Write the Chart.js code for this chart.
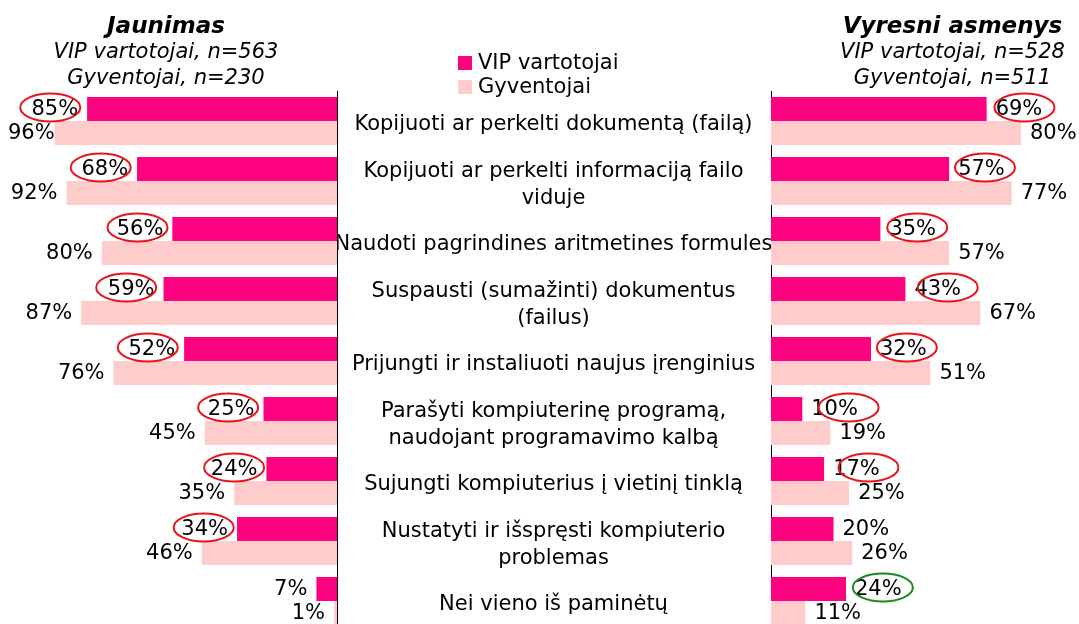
<!DOCTYPE html>
<html>
<head>
<meta charset="utf-8">
<script src="https://cdn.jsdelivr.net/npm/chart.js@4.4.1/dist/chart.umd.min.js"></script>
<style>
html,body{margin:0;padding:0;background:#fff;overflow:hidden;width:1079px;height:624px;}
#wrap{position:relative;width:1079px;height:624px;overflow:hidden;font-family:"DejaVu Sans",Verdana,sans-serif;color:#000;}
canvas{position:absolute;top:0;}
.t{position:absolute;text-align:center;white-space:nowrap;line-height:26px;}
.h{font-style:italic;font-weight:bold;font-size:23px;}
.s{font-style:italic;font-size:21px;}
.lg{position:absolute;white-space:nowrap;font-size:21px;line-height:26px;}
.sq{position:absolute;width:14px;height:14px;}
</style>
</head>
<body>
<div id="wrap">
  <canvas id="cl" width="340" height="640" style="left:0;width:340px;height:640px;"></canvas>
  <canvas id="cr" width="741" height="640" style="left:338px;width:741px;height:640px;"></canvas>

  <div class="t h" style="left:0;width:332px;top:12px;">Jaunimas</div>
  <div class="t s" style="left:0;width:332px;top:38px;">VIP vartotojai, n=563</div>
  <div class="t s" style="left:0;width:332px;top:64px;">Gyventojai, n=230</div>

  <div class="t h" style="left:826px;width:253px;top:12px;">Vyresni asmenys</div>
  <div class="t s" style="left:826px;width:253px;top:38px;">VIP vartotojai, n=528</div>
  <div class="t s" style="left:826px;width:253px;top:64px;">Gyventojai, n=511</div>

  <div class="sq" id="sq0" style="left:458px;top:56px;"></div>
  <div class="lg" id="lg0" style="left:478px;top:49px;"></div>
  <div class="sq" id="sq1" style="left:458px;top:80px;"></div>
  <div class="lg" id="lg1" style="left:478px;top:73px;"></div>
</div>
<script>
// ---- data ----
const categories = [
  'Kopijuoti ar perkelti dokumentą (failą)',
  ['Kopijuoti ar perkelti informaciją failo', 'viduje'],
  'Naudoti pagrindines aritmetines formules',
  ['Suspausti (sumažinti) dokumentus', '(failus)'],
  'Prijungti ir instaliuoti naujus įrenginius',
  ['Parašyti kompiuterinę programą,', 'naudojant programavimo kalbą'],
  'Sujungti kompiuterius į vietinį tinklą',
  ['Nustatyti ir išspręsti kompiuterio', 'problemas'],
  'Nei vieno iš paminėtų'
];
const seriesNames = ['VIP vartotojai', 'Gyventojai'];
const youthVIP = [85, 68, 56, 59, 52, 25, 24, 34, 7];
const youthPop = [96, 92, 80, 87, 76, 45, 35, 46, 1];
const olderVIP = [69, 57, 35, 43, 32, 10, 17, 20, 24];
const olderPop = [80, 77, 57, 67, 51, 19, 25, 26, 11];
// highlighted (circled) VIP values
const youthMarks = ['red', 'red', 'red', 'red', 'red', 'red', 'red', 'red', null];
const olderMarks = ['red', 'red', 'red', 'red', 'red', 'red', 'red', null, 'green'];

// ---- styles ----
const COL_VIP = '#ff0080';
const COL_POP = '#ffcccc';
const FONT = '"DejaVu Sans", Verdana, sans-serif';
const youthShift = [-4.5, -4, -2.5, -5, -4, -3, 0, -1, 0];
const olderShift = [5.5, 3.5, 4.5, 10, 3.5, 14, 12, 0, 4.5];

document.getElementById('sq0').style.background = COL_VIP;
document.getElementById('sq1').style.background = COL_POP;
document.getElementById('lg0').textContent = seriesNames[0];
document.getElementById('lg1').textContent = seriesNames[1];

const valueLabels = {
  id: 'valueLabels',
  afterDatasetsDraw(chart, args, opts) {
    const ctx = chart.ctx;
    ctx.save();
    ctx.font = '21px ' + FONT;
    ctx.fillStyle = '#000';
    ctx.textBaseline = 'middle';
    ctx.textAlign = 'left';
    chart.data.datasets.forEach((ds, di) => {
      const meta = chart.getDatasetMeta(di);
      meta.data.forEach((bar, i) => {
        const txt = ds.data[i] + '%';
        const w = ctx.measureText(txt).width;
        let x;
        if (opts.side === 'left') {
          x = bar.x - 9 - w;
          if (x < 8) x = 8;
        } else {
          x = bar.x + 9;
        }
        ctx.fillText(txt, x, bar.y + 1);
        if (di === 0 && opts.marks[i]) {
          const cx = x + w / 2 + opts.shifts[i];
          ctx.beginPath();
          ctx.ellipse(cx, bar.y - 1.5, 30, 14, 0, 0, Math.PI * 2);
          ctx.strokeStyle = opts.marks[i] === 'green' ? '#1c8a1c' : '#e8141c';
          ctx.lineWidth = 2;
          ctx.stroke();
        }
      });
    });
    ctx.restore();
  }
};

function datasets(vip, pop) {
  return [
    { label: seriesNames[0], data: vip, backgroundColor: COL_VIP, borderWidth: 0,
      categoryPercentage: 0.8, barPercentage: 1.0 },
    { label: seriesNames[1], data: pop, backgroundColor: COL_POP, borderWidth: 0,
      categoryPercentage: 0.8, barPercentage: 1.0 }
  ];
}

// left chart (Jaunimas) – reversed axis
new Chart(document.getElementById('cl'), {
  type: 'bar',
  data: { labels: categories, datasets: datasets(youthVIP, youthPop) },
  options: {
    indexAxis: 'y', responsive: false, animation: false, devicePixelRatio: 1,
    layout: { padding: { left: 43, right: 3, top: 91, bottom: 9 } },
    scales: {
      x: { min: 0, max: 100, reverse: true, display: false },
      y: { position: 'right', grid: { display: false },
           border: { display: true, color: '#000', width: 1 },
           ticks: { display: false },
           afterFit(s) { s.width = 0; } }
    },
    plugins: { legend: { display: false }, tooltip: { enabled: false },
               valueLabels: { side: 'left', marks: youthMarks, shifts: youthShift } }
  },
  plugins: [valueLabels]
});

// measure widest category line to center labels at x≈561.5
const mctx = document.createElement('canvas').getContext('2d');
mctx.font = '21px ' + FONT;
let widest = 0;
categories.forEach(c => [].concat(c).forEach(l => { widest = Math.max(widest, mctx.measureText(l).width); }));
const tickPad = 771 - 561.5 - widest / 2;

// right chart (Vyresni asmenys)
new Chart(document.getElementById('cr'), {
  type: 'bar',
  data: { labels: categories, datasets: datasets(olderVIP, olderPop) },
  options: {
    indexAxis: 'y', responsive: false, animation: false, devicePixelRatio: 1,
    layout: { padding: { left: 0, right: 58, top: 91, bottom: 9 } },
    scales: {
      x: { min: 0, max: 80, display: false },
      y: { position: 'left', grid: { display: false },
           border: { display: true, color: '#000', width: 1 },
           ticks: { autoSkip: false, crossAlign: 'center', padding: tickPad, labelOffset: 4,
                    color: '#000', font: { family: FONT, size: 21, lineHeight: 1.3 } },
           afterFit(s) { s.width = 433; } }
    },
    plugins: { legend: { display: false }, tooltip: { enabled: false },
               valueLabels: { side: 'right', marks: olderMarks, shifts: olderShift } }
  },
  plugins: [valueLabels]
});
</script>
</body>
</html>
